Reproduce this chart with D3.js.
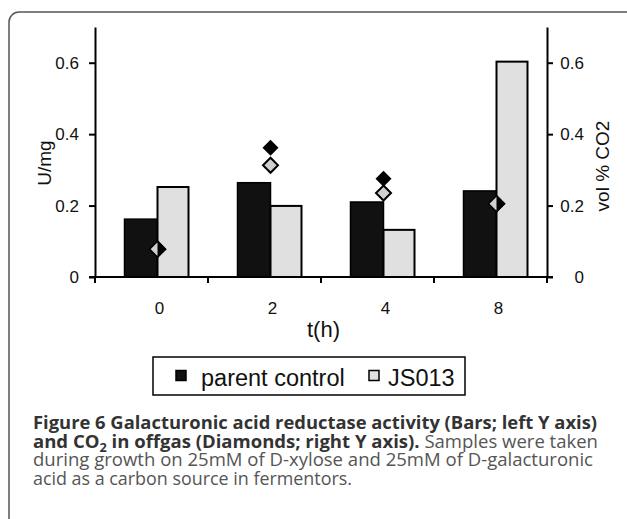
<!DOCTYPE html>
<html>
<head>
<meta charset="utf-8">
<script src="https://cdn.jsdelivr.net/npm/d3@7"></script>
<style>
  body { margin: 0; background: #fff; }
  svg { display: block; }
</style>
</head>
<body>
<div id="wrapper"></div>
<script>
// data
const times = ["0", "2", "4", "8"];
const parentActivity = [0.162, 0.264, 0.210, 0.241];   // U/mg, left axis
const js013Activity = [0.252, 0.199, 0.132, 0.603];
const parentCO2 = [0.078, 0.362, 0.275, 0.205];       // vol % CO2, right axis
const js013CO2 = [0.078, 0.313, 0.235, 0.205];
const yTicks = [0, 0.2, 0.4, 0.6];
const seriesNames = ["parent control", "JS013"];

function drawChart() {
  // step 1: dimensions
  let dimensions = {
    width: 627,
    height: 519,
    margin: { top: 27, right: 80, bottom: 242, left: 95 },
  };
  dimensions.boundedWidth = dimensions.width - dimensions.margin.left - dimensions.margin.right;
  dimensions.boundedHeight = dimensions.height - dimensions.margin.top - dimensions.margin.bottom;

  const blackFill = "#111";
  const greyFill = "#e0e0e0";
  const diamondGrey = "#cfcfcf";
  const font = "'Liberation Sans', Arial, sans-serif";

  // step 2: canvas
  const wrapper = d3.select("#wrapper")
    .append("svg")
    .attr("width", dimensions.width)
    .attr("height", dimensions.height);

  // figure frame (rounded, open at bottom/right)
  wrapper.append("path")
    .attr("d", "M9,519 V22 A10,10 0 0 1 19,12 H627")
    .attr("fill", "none")
    .attr("stroke", "#555")
    .attr("stroke-width", 1.5);

  const bounds = wrapper.append("g")
    .attr("transform", `translate(${dimensions.margin.left},${dimensions.margin.top})`);

  // step 3: scales
  const xScale = d3.scaleBand()
    .domain(times)
    .range([0, dimensions.boundedWidth]);
  const groupShift = 6; // bars sit a little right of the tick gaps
  const center = t => xScale(t) + xScale.bandwidth() / 2 + groupShift;
  const barWidth = 33;

  const yScale = d3.scaleLinear()
    .domain([0, 0.7])
    .range([dimensions.boundedHeight, 0]);
  const y2Scale = d3.scaleLinear()
    .domain([0, 0.7])
    .range([dimensions.boundedHeight, 0]);

  // step 4: bars
  const barData = times.map((t, i) => ({ t, parent: parentActivity[i], js: js013Activity[i] }));
  const groups = bounds.append("g").selectAll("g")
    .data(barData)
    .enter().append("g");
  groups.append("rect")
    .attr("x", d => center(d.t) - barWidth)
    .attr("y", d => yScale(d.parent))
    .attr("width", barWidth)
    .attr("height", d => dimensions.boundedHeight - yScale(d.parent))
    .attr("fill", blackFill)
    .attr("stroke", "#000")
    .attr("stroke-width", 1.5);
  groups.append("rect")
    .attr("x", d => center(d.t))
    .attr("y", d => yScale(d.js))
    .attr("width", barWidth - 2)
    .attr("height", d => dimensions.boundedHeight - yScale(d.js))
    .attr("fill", greyFill)
    .attr("stroke", "#000")
    .attr("stroke-width", 2);

  // step 5: diamonds (CO2, right axis)
  const diamond = s => `M0,${-s} L${s},0 L0,${s} L${-s},0 Z`;
  const co2Data = times.map((t, i) => ({ t, parent: parentCO2[i], js: js013CO2[i] }));
  const defs = wrapper.append("defs");
  co2Data.forEach((d, i) => {
    const cx = center(d.t);
    const same = Math.abs(d.parent - d.js) < 0.005;
    if (same) {
      // overlapping markers: grey left half, black right half
      bounds.append("path")
        .attr("d", diamond(8))
        .attr("transform", `translate(${cx},${y2Scale(d.js)})`)
        .attr("fill", diamondGrey)
        .attr("stroke", "#000")
        .attr("stroke-width", 1.5);
      defs.append("clipPath").attr("id", `half${i}`)
        .append("rect")
        .attr("x", dimensions.margin.left + cx)
        .attr("y", 0)
        .attr("width", 20)
        .attr("height", dimensions.height);
      wrapper.append("g").attr("clip-path", `url(#half${i})`)
        .append("path")
        .attr("d", diamond(8))
        .attr("transform", `translate(${dimensions.margin.left + cx},${dimensions.margin.top + y2Scale(d.parent)})`)
        .attr("fill", "#000")
        .attr("stroke", "#000")
        .attr("stroke-width", 1.5);
    } else {
      bounds.append("path")
        .attr("d", diamond(7.5))
        .attr("transform", `translate(${cx},${y2Scale(d.js)})`)
        .attr("fill", diamondGrey)
        .attr("stroke", "#000")
        .attr("stroke-width", 2);
      bounds.append("path")
        .attr("d", diamond(8))
        .attr("transform", `translate(${cx},${y2Scale(d.parent)})`)
        .attr("fill", "#000");
    }
  });

  // step 6: axes
  const fmt = d => d === 0 ? "0" : d3.format(".1f")(d);
  const yAxis = bounds.append("g")
    .call(d3.axisLeft(yScale).tickValues(yTicks).tickFormat(fmt).tickSize(6).tickSizeOuter(0).tickPadding(10));
  const y2Axis = bounds.append("g")
    .attr("transform", `translate(${dimensions.boundedWidth},0)`)
    .call(d3.axisRight(y2Scale).tickValues(yTicks).tickFormat(fmt).tickSize(6).tickSizeOuter(0));
  y2Axis.selectAll("text")
    .attr("x", 37)
    .style("text-anchor", "end");
  [yAxis, y2Axis].forEach(ax => {
    ax.selectAll("path, line").attr("stroke", "#000").attr("stroke-width", 2);
    ax.selectAll("text")
      .attr("fill", "#111")
      .style("font-family", font)
      .style("font-size", "17px");
  });

  // x axis: baseline with ticks at group boundaries
  const boundaries = times.map(t => xScale(t)).concat(dimensions.boundedWidth);
  const xAxis = bounds.append("g")
    .attr("transform", `translate(0,${dimensions.boundedHeight})`);
  xAxis.append("line")
    .attr("x1", -6).attr("x2", dimensions.boundedWidth + 6)
    .attr("stroke", "#000").attr("stroke-width", 2);
  xAxis.selectAll(".tick")
    .data(boundaries)
    .enter().append("line")
    .attr("x1", d => d).attr("x2", d => d)
    .attr("y1", 0).attr("y2", 6)
    .attr("stroke", "#000").attr("stroke-width", 2);
  xAxis.selectAll(".xlabel")
    .data(times)
    .enter().append("text")
    .attr("x", d => center(d) + 2)
    .attr("y", 37)
    .attr("fill", "#111")
    .style("text-anchor", "middle")
    .style("font-family", font)
    .style("font-size", "17px")
    .text(d => d);

  // axis titles
  bounds.append("text")
    .attr("x", center("2") + 53)
    .attr("y", dimensions.boundedHeight + 60)
    .attr("fill", "#111")
    .style("text-anchor", "middle")
    .style("font-family", font)
    .style("font-size", "22px")
    .text("t(h)");
  wrapper.append("text")
    .attr("transform", "translate(51,163) rotate(-90)")
    .attr("fill", "#111")
    .style("text-anchor", "middle")
    .style("font-family", font)
    .style("font-size", "19px")
    .text("U/mg");
  wrapper.append("text")
    .attr("transform", "translate(609,166) rotate(-90)")
    .attr("fill", "#111")
    .style("text-anchor", "middle")
    .style("font-family", font)
    .style("font-size", "19px")
    .text("vol % CO2");

  // legend
  const legend = wrapper.append("g");
  legend.append("rect")
    .attr("x", 153).attr("y", 357)
    .attr("width", 312).attr("height", 38)
    .attr("fill", "#fff")
    .attr("stroke", "#000")
    .attr("stroke-width", 1.5);
  const legendItems = [
    { name: seriesNames[0], x: 176, fill: blackFill, textX: 201 },
    { name: seriesNames[1], x: 369, fill: greyFill, textX: 388 },
  ];
  legend.selectAll(".item")
    .data(legendItems)
    .enter().append("rect")
    .attr("x", d => d.x).attr("y", 370.5)
    .attr("width", 10).attr("height", 10)
    .attr("fill", d => d.fill)
    .attr("stroke", "#000")
    .attr("stroke-width", 1.5);
  legend.selectAll(".label")
    .data(legendItems)
    .enter().append("text")
    .attr("x", d => d.textX)
    .attr("y", 386)
    .attr("fill", "#111")
    .style("font-family", font)
    .style("font-size", "23.5px")
    .text(d => d.name);

  // caption
  const capFont = "'Open Sans', 'Noto Sans', sans-serif";
  const cap = wrapper.append("g")
    .style("font-family", capFont)
    .style("font-size", "17.5px");
  cap.append("text")
    .attr("x", 33).attr("y", 429)
    .attr("textLength", 564).attr("lengthAdjust", "spacingAndGlyphs")
    .attr("fill", "#333")
    .style("font-weight", "bold")
    .text("Figure 6 Galacturonic acid reductase activity (Bars; left Y axis)");
  const l2 = cap.append("text")
    .attr("x", 33).attr("y", 447.5)
    .attr("textLength", 565).attr("lengthAdjust", "spacingAndGlyphs");
  l2.append("tspan").attr("fill", "#333").style("font-weight", "bold").text("and CO");
  l2.append("tspan").attr("fill", "#333").style("font-weight", "bold")
    .attr("dy", 4).style("font-size", "12px").text("2");
  l2.append("tspan").attr("fill", "#333").style("font-weight", "bold")
    .attr("dy", -4).text(" in offgas (Diamonds; right Y axis).");
  l2.append("tspan").attr("fill", "#555").text(" Samples were taken");
  cap.append("text")
    .attr("x", 33).attr("y", 466)
    .attr("textLength", 560).attr("lengthAdjust", "spacingAndGlyphs")
    .attr("fill", "#555")
    .text("during growth on 25mM of D-xylose and 25mM of D-galacturonic");
  cap.append("text")
    .attr("x", 33).attr("y", 484.5)
    .attr("textLength", 319).attr("lengthAdjust", "spacingAndGlyphs")
    .attr("fill", "#555")
    .text("acid as a carbon source in fermentors.");
}
drawChart();
</script>
</body>
</html>
